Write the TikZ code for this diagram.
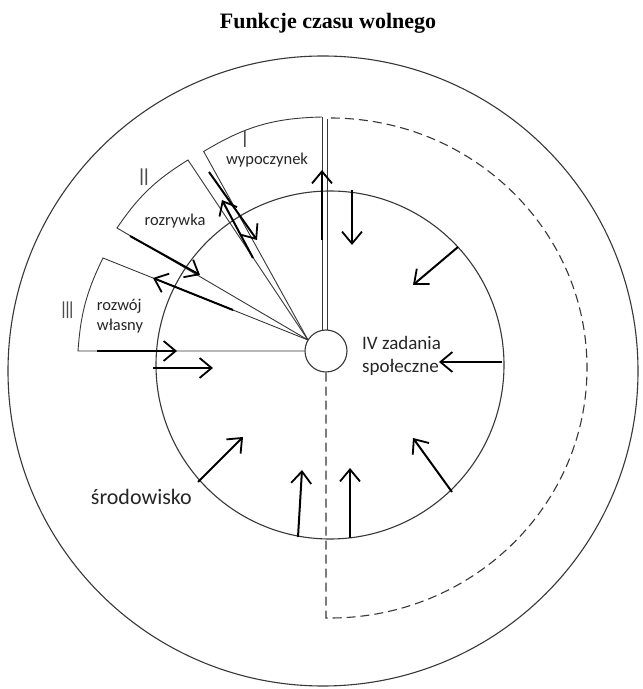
\documentclass[tikz,border=0pt]{standalone}
\usepackage{fontspec}
\setmainfont{Carlito}
\newfontfamily\titlefont{Liberation Serif}
\usetikzlibrary{arrows.meta}
\begin{document}
\begin{tikzpicture}[x=1pt,y=1pt,
  ring/.style={draw=black!78, line width=1.1pt},
  edge/.style={draw=black!78, line width=0.9pt},
  dashline/.style={draw=black!78, line width=1.1pt, dash pattern=on 9pt off 5pt},
  flow/.style={draw=black, line width=2pt, -{Straight Barb[length=12pt,width=20pt,line width=1.8pt]}},
  lbl/.style={text=black!85, inner sep=0pt, font=\fontsize{16.5}{19}\selectfont},
  roman/.style={text=black!70, inner sep=0pt, font=\fontsize{26}{28}\selectfont},
]
\useasboundingbox (0,0) rectangle (643,689);
\fill[white] (0,0) rectangle (643,689);

% title
\node[inner sep=0pt, font=\titlefont\bfseries\fontsize{22}{26}\selectfont] (title) at (328,666) {Funkcje czasu wolnego};

% circles
\node[ring, circle, minimum size=630pt, inner sep=0pt] (outer) at (323,318) {};
\node[ring, circle, minimum size=348pt, inner sep=0pt] (inner) at (330,324) {};
\node[ring, circle, minimum size=42pt, inner sep=0pt, fill=white] (hub) at (326,338) {};

% hub convergence point
\coordinate (H) at (308,349);

% dashed boundary of IV
\coordinate (db) at (326,71);
\coordinate (dc) at (330,71);
\draw[dashline] (hub.south) -- (db) -- (dc) arc[start angle=-90, end angle=90, x radius=257pt, y radius=250pt];

% double vertical line (sector I right edge)
\coordinate (v1t) at (322,572);
\coordinate (v1b) at (322,358.6);
\coordinate (v2t) at (327,570);
\coordinate (v2b) at (327,359);
\draw[edge] (v1t) -- (v1b);
\draw[edge] (v2t) -- (v2b);

% sector I
\coordinate (s1b) at (203.7,537.5);
\draw[edge] (v1t) to[bend right=15] (s1b) -- (H);
% sector II
\coordinate (s2a) at (188,529);
\coordinate (s2b) at (117,461);
\draw[edge] (H) -- (s2a) to[bend right=12] (s2b) -- (H);
% sector III
\coordinate (s3a) at (103,431);
\coordinate (s3b) at (78,338);
\draw[edge] (H) -- (s3a) to[bend right=11] (s3b) -- (hub.west);

% arrows from environment into IV
\coordinate (a1s) at (352,499); \coordinate (a1e) at (352,444);
\coordinate (a2s) at (458,442); \coordinate (a2e) at (413,404);
\coordinate (a3s) at (502,327); \coordinate (a3e) at (439,327);
\coordinate (a4s) at (452,197); \coordinate (a4e) at (413,251);
\coordinate (a5s) at (350,151); \coordinate (a5e) at (350,221);
\coordinate (a6s) at (298,152); \coordinate (a6e) at (302,219);
\coordinate (a7s) at (198,207); \coordinate (a7e) at (243,252);
\coordinate (a8s) at (153,321); \coordinate (a8e) at (213,321);
\foreach \i in {1,...,8} \draw[flow] (a\i s) -- (a\i e);

% arrows along the sectors
\coordinate (b1s) at (97,338);  \coordinate (b1e) at (177,338);
\coordinate (b2s) at (130,453); \coordinate (b2e) at (200,414);
\coordinate (b3s) at (233,379); \coordinate (b3e) at (153,411);
\coordinate (b4s) at (209,517); \coordinate (b4e) at (257,449);
\coordinate (b5s) at (253,431); \coordinate (b5e) at (222,489);
\coordinate (b6s) at (322,449); \coordinate (b6e) at (322,519);
\foreach \i in {1,...,6} \draw[flow] (b\i s) -- (b\i e);

% labels
\node[roman] (rI) at (245,550) {\scalebox{0.7}[1]{I}};
\node[roman] (rII) at (144,512) {\scalebox{0.7}[1]{II}};
\node[roman] (rIII) at (67.5,379) {\scalebox{0.6}[1]{III}};
\node[lbl] (wyp) at (267,529) {wypoczynek};
\node[lbl] (roz) at (175,468) {rozrywka};
\node[lbl, align=left, font=\fontsize{16.5}{19.5}\selectfont] (rw) at (120,373) {rozwój\\własny};
\node[lbl, align=left, anchor=west, font=\fontsize{19}{23}\selectfont] (iv) at (362,333) {IV zadania\\społeczne};
\node[lbl, anchor=east, font=\fontsize{22}{26}\selectfont] (srod) at (192,192) {środowisko};
\end{tikzpicture}
\end{document}
